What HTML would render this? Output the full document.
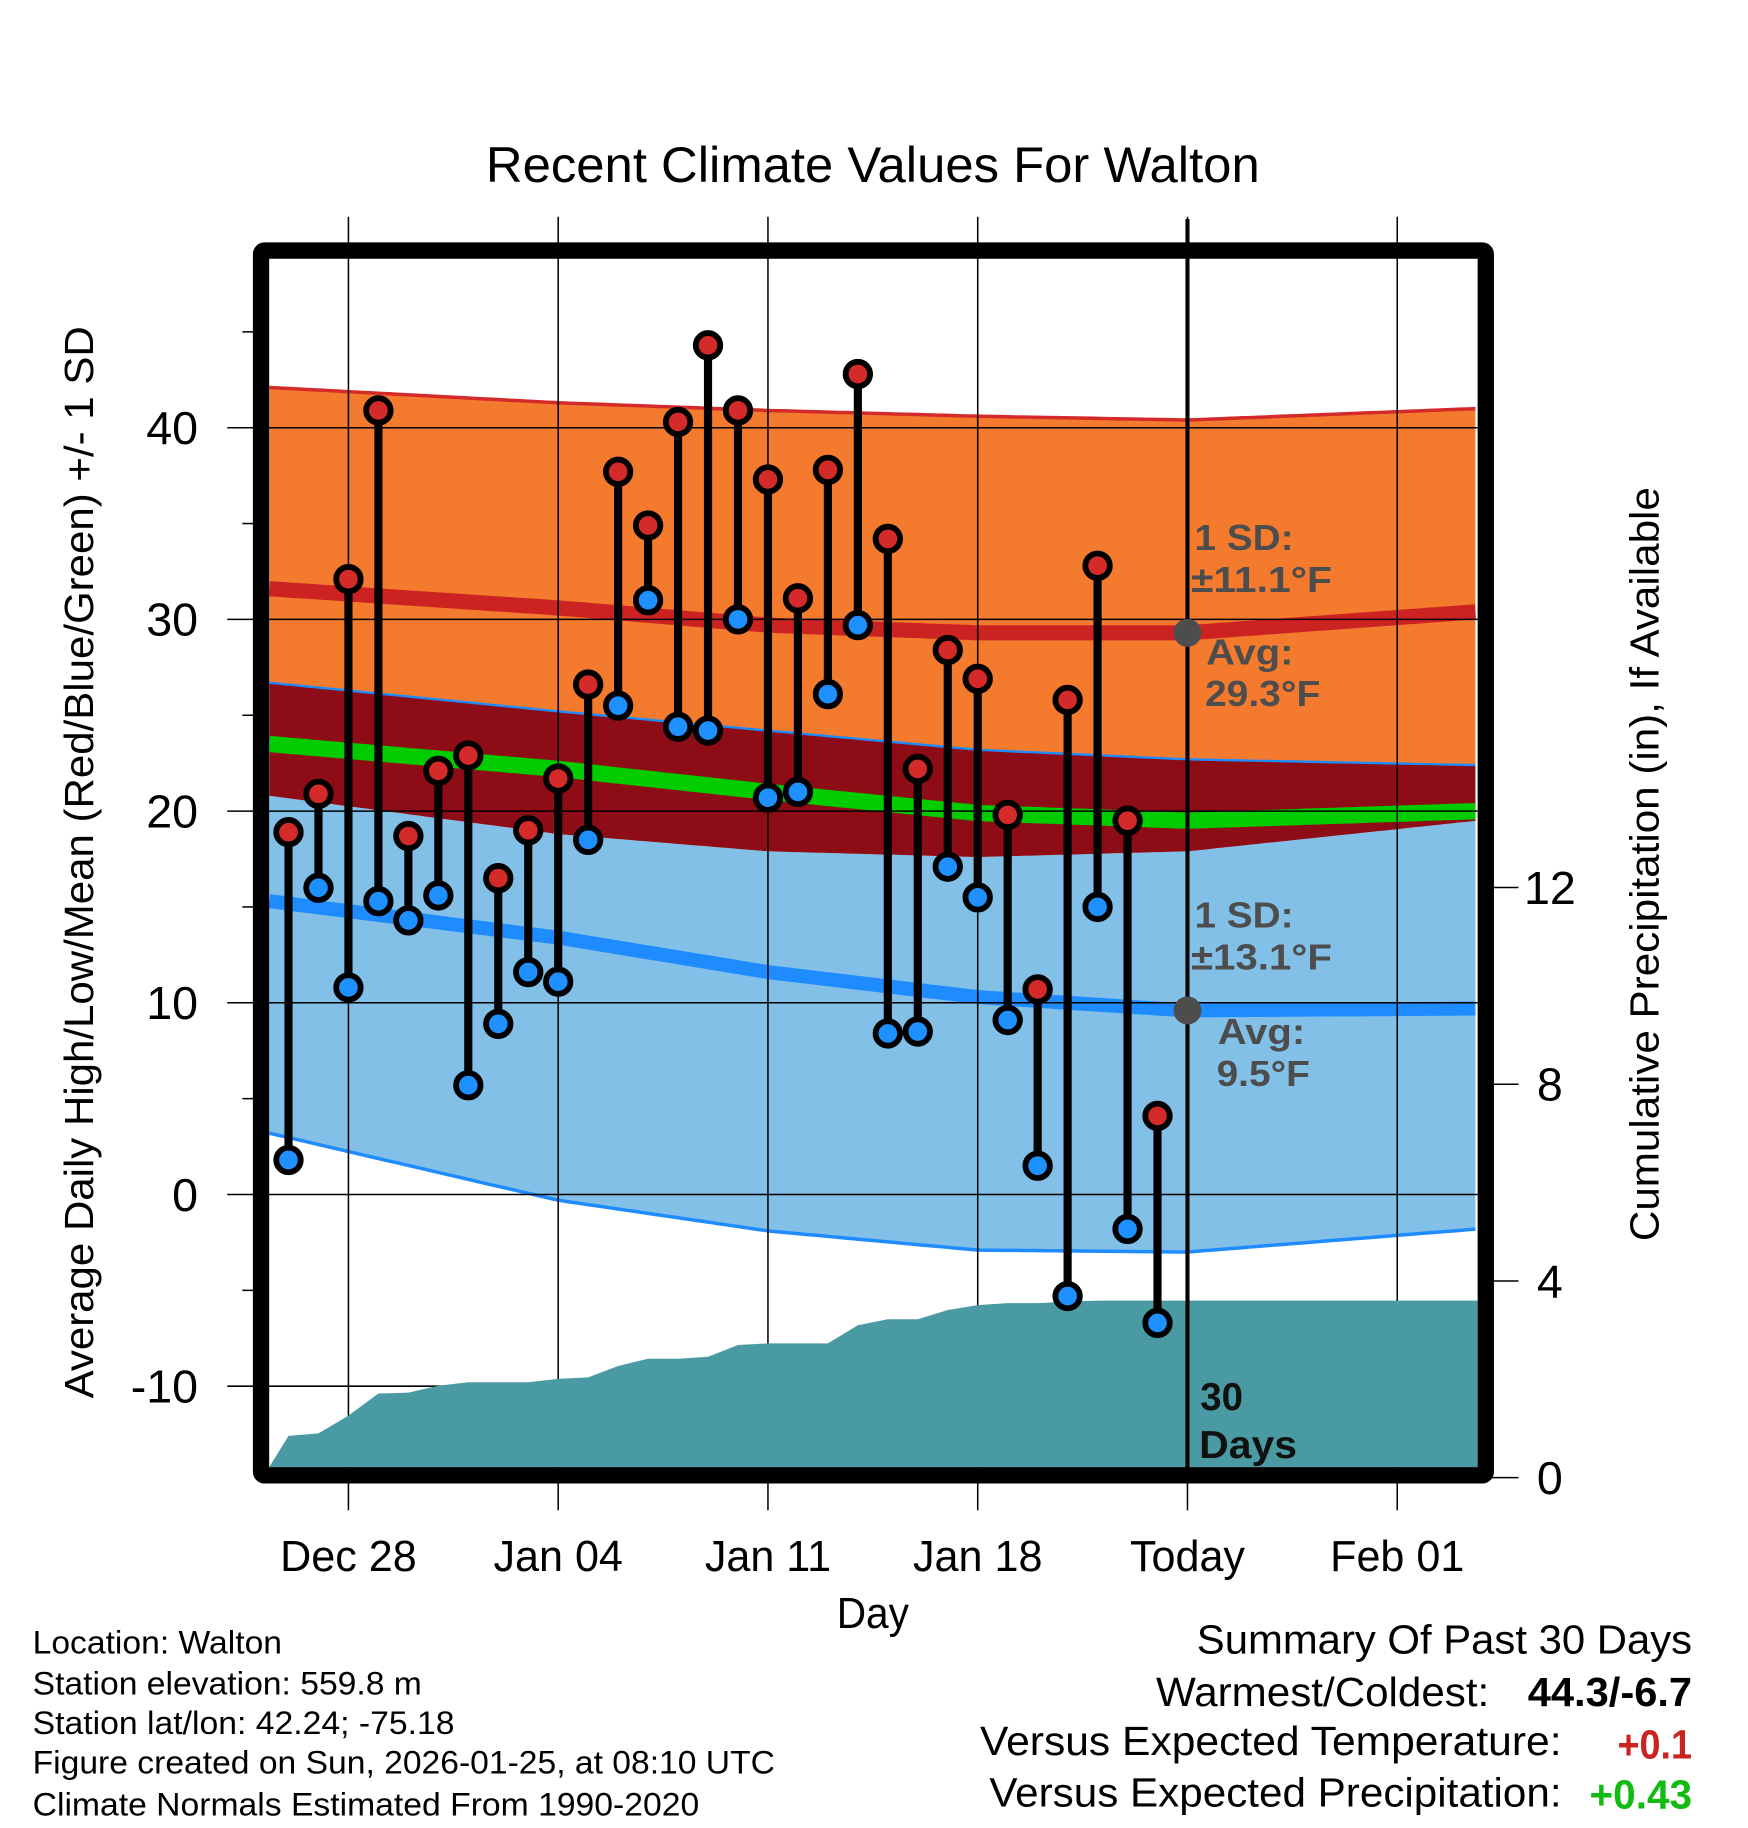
<!DOCTYPE html>
<html><head><meta charset="utf-8"><style>
html,body{margin:0;padding:0;background:#fff}
svg{display:block}
text{font-family:"Liberation Sans",Arial,sans-serif}
</style></head><body>
<svg id="chart" xmlns="http://www.w3.org/2000/svg" width="1748" height="1828" viewBox="0 0 1500 1568.6">
<g id="bands"></g><g id="grid"></g><g id="precip"></g><g id="today"></g><g id="stems"></g><g id="marks"></g><g id="frame"></g><g id="labels"></g>
</svg>
<script>
// ---- data ----
const highs = [18.9,20.9,32.1,40.9,18.7,22.1,22.9,16.5,19.0,21.7,26.6,37.7,34.9,40.3,44.3,40.9,37.3,31.1,37.8,42.8,34.2,22.2,28.4,26.9,19.8,10.7,25.8,32.8,19.5,4.1];
const lows  = [1.8,16.0,10.8,15.3,14.3,15.6,5.7,8.9,11.6,11.1,18.5,25.5,31.0,24.4,24.2,30.0,20.7,21.0,26.1,29.7,8.4,8.5,17.1,15.5,9.1,1.5,-5.3,15.0,-1.8,-6.7];
const precipCum = [0.85,0.9,1.26,1.71,1.73,1.87,1.94,1.94,1.94,2.01,2.04,2.27,2.42,2.42,2.46,2.70,2.73,2.73,2.73,3.10,3.22,3.22,3.41,3.51,3.55,3.55,3.58,3.6,3.6,3.6];
const normDays = [-30.64,-21,-14,-7,0,9.67];
const highMean = [31.6,30.6,29.7,29.3,29.3,30.4];
const highUpper = [42.1,41.3,40.9,40.6,40.4,41.0];
const highLower = [26.7,25.2,24.2,23.2,22.7,22.4];
const lowMean = [15.3,13.4,11.6,10.3,9.6,9.7];
const lowUpper = [20.8,18.8,17.9,17.6,17.9,19.5];
const lowLower = [3.2,-0.3,-1.9,-2.9,-3.0,-1.8];
const meanMean = [23.5,22.2,21.0,19.9,19.5,20.0];
const xTickDays = [-28,-21,-14,-7,0,7];
const xTickLabels = ["Dec 28","Jan 04","Jan 11","Jan 18","Today","Feb 01"];
const yTicks = [-10,0,10,20,30,40];
const pTicks = [0,4,8,12];

// ---- axes ----
const L=231,R=1268,T=222,B=1259;
const X = d => 1019 + d*180/7;            // d = days relative to today
const Y = v => 1025 - v*16.45;
const P = v => 1268 - v*42.2;
const NS="http://www.w3.org/2000/svg";
function el(parent,tag,attrs){const e=document.createElementNS(NS,tag);for(const k in attrs)e.setAttribute(k,attrs[k]);document.getElementById(parent).appendChild(e);return e;}
function interp(arr,d){for(let i=0;i<normDays.length-1;i++){if(d<=normDays[i+1]){const t=(d-normDays[i])/(normDays[i+1]-normDays[i]);return arr[i]+(arr[i+1]-arr[i])*t;}}return arr[arr.length-1];}
const samp=[];for(let d=normDays[0];d<=normDays[normDays.length-1]+0.001;d+=0.25)samp.push(Math.min(d,normDays[normDays.length-1]));
function bandPath(a,b){let s='';samp.forEach((d,i)=>{s+=(i?'L':'M')+X(d).toFixed(1)+','+Y(interp(a,d)).toFixed(1);});for(let i=samp.length-1;i>=0;i--){s+='L'+X(samp[i]).toFixed(1)+','+Y(interp(b,samp[i])).toFixed(1);}return s+'Z';}
function linePath(a){let s='';samp.forEach((d,i)=>{s+=(i?'L':'M')+X(d).toFixed(1)+','+Y(interp(a,d)).toFixed(1);});return s;}

let e;
e=el('bands','path',{d:bandPath(lowUpper,lowLower),fill:'#82c0e8'});


e=el('bands','path',{d:bandPath(highLower,lowUpper),fill:'#8e0c15'});


e=el('bands','path',{d:bandPath(highUpper,highLower),fill:'#f47a2e'});


e=el('bands','path',{d:linePath(highUpper),fill:'none',stroke:'#d42a2a',"stroke-width":3});


e=el('bands','path',{d:linePath(highLower),fill:'none',stroke:'#1e8cff',"stroke-width":2});


e=el('bands','path',{d:linePath(lowLower),fill:'none',stroke:'#1e8cff',"stroke-width":3});


e=el('bands','path',{d:linePath(highMean),fill:'none',stroke:'#cc2222',"stroke-width":13});


e=el('bands','path',{d:linePath(lowMean),fill:'none',stroke:'#1e8cff',"stroke-width":12});


e=el('bands','path',{d:linePath(meanMean),fill:'none',stroke:'#00cc00',"stroke-width":14});



// grid
xTickDays.forEach((d,i)=>{
  e=el('grid','line',{x1:X(d),x2:X(d),y1:186,y2:1296,stroke:'#000',"stroke-width":1.3});
  
  
  e=el('labels','text',{x:X(d),y:1348,"text-anchor":"middle","font-size":37});
  e.textContent=xTickLabels[i];
  
  
});
yTicks.forEach(v=>{
  e=el('grid','line',{x1:195,x2:R,y1:Y(v),y2:Y(v),stroke:'#000',"stroke-width":1.3});
  
  
  e=el('labels','text',{x:170,y:Y(v)+14,"text-anchor":"end","font-size":40});
  e.textContent=v;
  
  
});
[-5,5,15,25,35,45].forEach(v=>{
  e=el('grid','line',{x1:208,x2:220,y1:Y(v),y2:Y(v),stroke:'#000',"stroke-width":1.3});
  
  
});
pTicks.forEach(v=>{
  e=el('grid','line',{x1:1280,x2:1303,y1:P(v),y2:P(v),stroke:'#000',"stroke-width":1.3});
  
  
  e=el('labels','text',{x:1330,y:P(v)+14,"text-anchor":"middle","font-size":40});
  e.textContent=v;
  
  
});

// precipitation area
(function(){
  let s='M'+L+','+B+'L'+X(-30)+','+P(precipCum[0]);
  precipCum.forEach((v,i)=>{s+='L'+X(i-30).toFixed(1)+','+P(v).toFixed(1);});
  s+='L'+R+','+P(precipCum[precipCum.length-1])+'L'+R+','+B+'Z';
  e=el('precip','path',{d:s,fill:'#4a9aa4'});
  
  
})();

// today line + avg dots
e=el('today','line',{x1:1019,x2:1019,y1:188,y2:1262,stroke:'#000',"stroke-width":3.5});


e=el('today','circle',{cx:1019,cy:Y(interp(highMean,0)),r:12,fill:'#4d4d4d'});


e=el('today','circle',{cx:1019,cy:Y(interp(lowMean,0)),r:12,fill:'#4d4d4d'});



// stems & markers
highs.forEach((h,i)=>{
  const x=X(i-30);
  e=el('stems','line',{x1:x,x2:x,y1:Y(h),y2:Y(lows[i]),stroke:'#000',"stroke-width":7});
  
  
  e=el('marks','circle',{cx:x,cy:Y(h),r:10.5,fill:'#d42a2a',stroke:'#000',"stroke-width":5});
  
  
  e=el('marks','circle',{cx:x,cy:Y(lows[i]),r:10.5,fill:'#1e90ff',stroke:'#000',"stroke-width":5});
  
  
});

// frame
e=el('frame','rect',{x:224,y:215,width:1051,height:1051,fill:'none',stroke:'#000',"stroke-width":14,rx:3});


</script>
<svg style="position:absolute;left:0;top:0" width="1748" height="1828" viewBox="0 0 1500 1568.6" xmlns="http://www.w3.org/2000/svg">
<g font-family="Liberation Sans, Arial, sans-serif">
<text x="417" y="156" font-size="43" textLength="664" lengthAdjust="spacingAndGlyphs">Recent Climate Values For Walton</text>
<text transform="translate(80,1200) rotate(-90)" font-size="35" textLength="920" lengthAdjust="spacingAndGlyphs">Average Daily High/Low/Mean (Red/Blue/Green) +/- 1 SD</text>
<text transform="translate(1423,1065) rotate(-90)" font-size="35" textLength="647" lengthAdjust="spacingAndGlyphs">Cumulative Precipitation (in), If Available</text>
<text x="718" y="1397" font-size="37" textLength="62" lengthAdjust="spacingAndGlyphs">Day</text>
<g fill="#4d4d4d" font-weight="bold" font-size="31">
<text x="1025" y="472" textLength="85" lengthAdjust="spacingAndGlyphs">1 SD:</text>
<text x="1022" y="508" textLength="121" lengthAdjust="spacingAndGlyphs">±11.1°F</text>
<text x="1035" y="570" textLength="75" lengthAdjust="spacingAndGlyphs">Avg:</text>
<text x="1034" y="606" textLength="99" lengthAdjust="spacingAndGlyphs">29.3°F</text>
<text x="1025" y="796" textLength="85" lengthAdjust="spacingAndGlyphs">1 SD:</text>
<text x="1022" y="832" textLength="121" lengthAdjust="spacingAndGlyphs">±13.1°F</text>
<text x="1045" y="896" textLength="75" lengthAdjust="spacingAndGlyphs">Avg:</text>
<text x="1044" y="932" textLength="80" lengthAdjust="spacingAndGlyphs">9.5°F</text>
</g>
<g fill="#111" font-weight="bold" font-size="33">
<text x="1030" y="1210">30</text>
<text x="1029" y="1251" textLength="84" lengthAdjust="spacingAndGlyphs">Days</text>
</g>
<g font-size="28">
<text x="28" y="1419" textLength="214" lengthAdjust="spacingAndGlyphs">Location: Walton</text>
<text x="28" y="1454" textLength="334" lengthAdjust="spacingAndGlyphs">Station elevation: 559.8 m</text>
<text x="28" y="1488" textLength="362" lengthAdjust="spacingAndGlyphs">Station lat/lon: 42.24; -75.18</text>
<text x="28" y="1522" textLength="637" lengthAdjust="spacingAndGlyphs">Figure created on Sun, 2026-01-25, at 08:10 UTC</text>
<text x="28" y="1558" textLength="572" lengthAdjust="spacingAndGlyphs">Climate Normals Estimated From 1990-2020</text>
</g>
<g font-size="35">
<text x="1027" y="1419" textLength="425" lengthAdjust="spacingAndGlyphs">Summary Of Past 30 Days</text>
<text x="992" y="1464" textLength="286" lengthAdjust="spacingAndGlyphs">Warmest/Coldest:</text>
<text x="1311" y="1464" font-weight="bold" textLength="141" lengthAdjust="spacingAndGlyphs">44.3/-6.7</text>
<text x="841" y="1506" textLength="499" lengthAdjust="spacingAndGlyphs">Versus Expected Temperature:</text>
<text x="1388" y="1509" font-weight="bold" fill="#cc2222" textLength="64" lengthAdjust="spacingAndGlyphs">+0.1</text>
<text x="849" y="1550" textLength="491" lengthAdjust="spacingAndGlyphs">Versus Expected Precipitation:</text>
<text x="1364" y="1552" font-weight="bold" fill="#11bb11" textLength="88" lengthAdjust="spacingAndGlyphs">+0.43</text>
</g>
</g>
</svg>
</body></html>
